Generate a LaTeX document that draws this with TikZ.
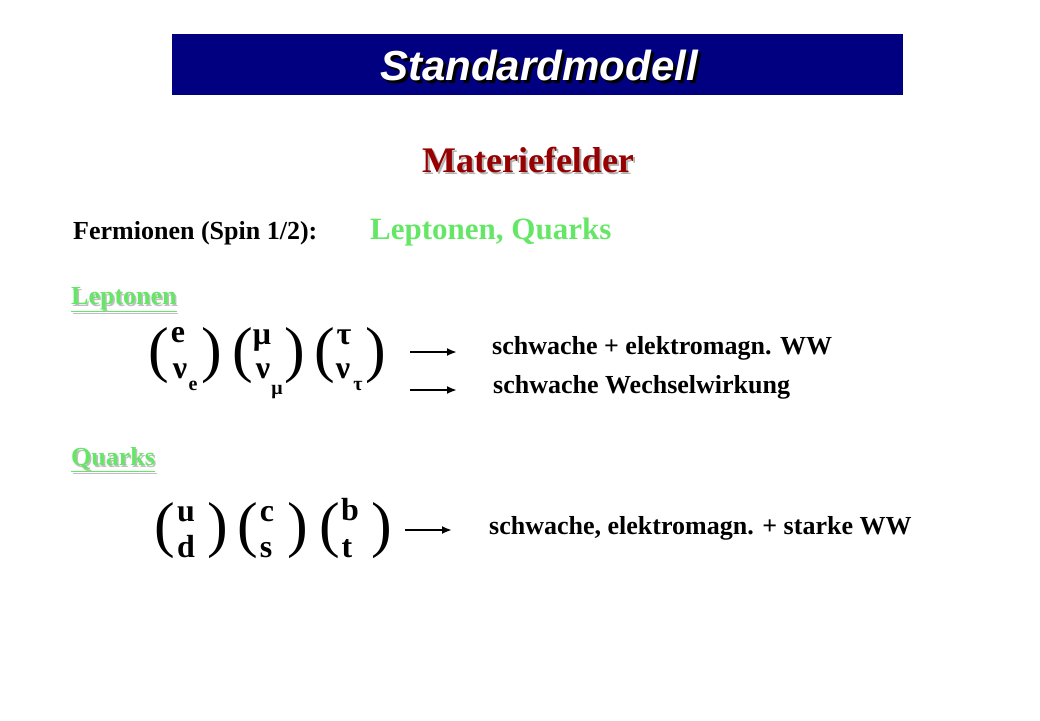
\documentclass[tikz,border=0pt]{standalone}
\usepackage{fontspec}
\setmainfont{Liberation Serif}
\newfontfamily\titlefont{Liberation Sans}
\usetikzlibrary{arrows.meta}
\definecolor{navy}{RGB}{0,0,128}
\definecolor{darkred}{RGB}{150,0,0}
\definecolor{lgreen}{RGB}{102,230,102}
\tikzset{
  txt/.style={font=\bfseries\fontsize{26}{28}\selectfont, anchor=west, inner sep=0},
  let/.style={font=\bfseries\fontsize{32}{34}\selectfont, inner sep=0, text height=20pt, text depth=3pt},
  sub/.style={font=\bfseries\fontsize{20}{22}\selectfont, inner sep=0, text height=12pt, text depth=2pt},
  par/.style={font=\fontsize{62}{62}\selectfont, inner sep=0, text height=40pt, text depth=10pt, text width=12pt, align=center},
  arr/.style={-{Latex[length=10pt,width=8pt]}, line width=2.8pt},
}
\begin{document}
\begin{tikzpicture}[x=1pt,y=-1pt]
\useasboundingbox (0,0) rectangle (1040,720);
\fill[navy] (172,34) rectangle (903,95);
\node[font=\titlefont\bfseries\itshape\fontsize{42}{44}\selectfont, text=black] at (542,68) {Standardmodell};
\node[font=\titlefont\bfseries\itshape\fontsize{42}{44}\selectfont, text=white] (title) at (539,65) {Standardmodell};
\node[font=\bfseries\fontsize{36}{38}\selectfont, text=gray!60] at (530,162) {Materiefelder};
\node[font=\bfseries\fontsize{36}{38}\selectfont, text=darkred] (mat) at (528,160) {Materiefelder};
\node[txt] (ferm) at (73,233) {Fermionen (Spin 1/2):};
\node[txt, font=\bfseries\fontsize{31}{33}\selectfont, text=lgreen] (lq) at (370,232) {Leptonen, Quarks};
\node[txt, text=gray!50] at (72.5,301.5) {\underline{Leptonen}};
\node[txt, text=lgreen] (lep) at (71,300) {\underline{Leptonen}};
\node[txt, text=gray!50] at (72.5,461.5) {\underline{Quarks}};
\node[txt, text=lgreen] (qua) at (71,460) {\underline{Quarks}};
% leptons
\node[par] (p1) at (154,355) {(}; \node[par] (p2) at (207,355) {)};
\node[let] (e) at (178,334) {e}; \node[let] (ne) at (180,370) {ν};
\node[sub] (se) at (193,385) {e};
\node[par] (p3) at (238,355) {(}; \node[par] (p4) at (290,355) {)};
\node[let] (mu) at (262,336) {μ}; \node[let] (nm) at (263,370) {ν};
\node[sub] (sm) at (277,389) {μ};
\node[par] (p5) at (320,355) {(}; \node[par] (p6) at (371,355) {)};
\node[let] (ta) at (344,336) {τ}; \node[let] (nt) at (343,370) {ν};
\node[sub] (st) at (358,385) {τ};
\coordinate (a1s) at (410,352); \coordinate (a1e) at (457,352);
\coordinate (a2s) at (410,390); \coordinate (a2e) at (457,390);
\draw[arr] (a1s) -- (a1e); \draw[arr] (a2s) -- (a2e);
\node[txt] (t1) at (492,348) {schwache + elektromagn. WW};
\node[txt] (t2) at (493,387) {schwache Wechselwirkung};
% quarks
\node[par] (q1) at (160,530) {(}; \node[par] (q2) at (213,530) {)};
\node[let] (u) at (186,513) {u}; \node[let] (d) at (186,549) {d};
\node[par] (q3) at (243,530) {(}; \node[par] (q4) at (293,530) {)};
\node[let] (c) at (267,513) {c}; \node[let] (s) at (266,549) {s};
\node[par] (q5) at (325,530) {(}; \node[par] (q6) at (377,530) {)};
\node[let] (b) at (350,512) {b}; \node[let] (t) at (347,549) {t};
\coordinate (a3s) at (405,530); \coordinate (a3e) at (452,530);
\draw[arr] (a3s) -- (a3e);
\node[txt] (t3) at (489,528) {schwache, elektromagn. + starke WW};
\end{tikzpicture}
\end{document}
